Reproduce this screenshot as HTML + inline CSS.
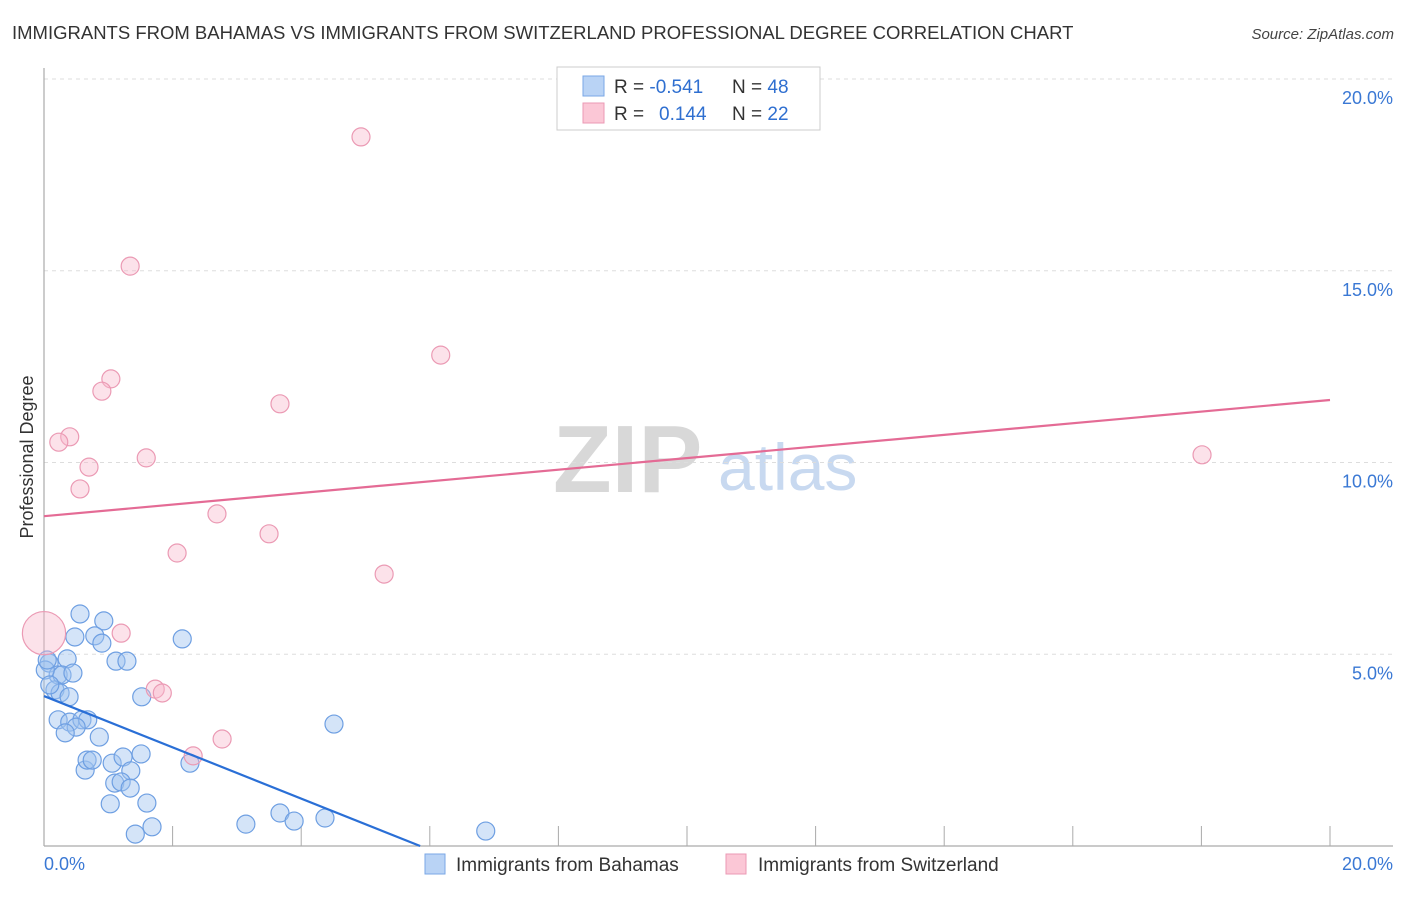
<!DOCTYPE html>
<html><head><meta charset="utf-8"><style>
body{margin:0;background:#fff;font-family:"Liberation Sans",sans-serif;}
svg text{font-family:"Liberation Sans",sans-serif;}
</style></head><body>
<svg id="chart" width="1406" height="892" viewBox="0 0 1406 892" xmlns="http://www.w3.org/2000/svg">
<text x="12" y="39" font-size="18.5" fill="#333">IMMIGRANTS FROM BAHAMAS VS IMMIGRANTS FROM SWITZERLAND PROFESSIONAL DEGREE CORRELATION CHART</text>
<text x="1394" y="39" font-size="15" fill="#444" text-anchor="end" font-style="italic">Source: ZipAtlas.com</text>
<g>
<text x="553" y="492" font-size="96" font-family="Liberation Serif" fill="#d8d8d8" font-weight="bold">ZIP</text>
<text x="718" y="490" font-size="66" fill="#c8d9f0">atlas</text>
</g>
<g id="grid"></g>
<line x1="44" y1="68" x2="44" y2="846" stroke="#aaa" stroke-width="1.2"/>
<line x1="44" y1="846" x2="1393" y2="846" stroke="#aaa" stroke-width="1.2"/>
<text transform="translate(33,457) rotate(-90)" text-anchor="middle" font-size="18" fill="#333">Professional Degree</text>
<text x="44" y="870" font-size="18" fill="#3a78d4">0.0%</text>
<text x="1393" y="870" font-size="18" fill="#3a78d4" text-anchor="end">20.0%</text>
<g id="pts"></g>
<g id="lines"></g>
<g>
<rect x="557" y="67" width="263" height="63" fill="#fff" stroke="#ccc"/>
<rect x="583" y="76" width="21" height="20" fill="#b9d3f5" stroke="#7aa7e6"/>
<rect x="583" y="103" width="21" height="20" fill="#fbc7d6" stroke="#eb9ab4"/>
<text x="614" y="93" font-size="19" fill="#333">R = <tspan fill="#2f6fd0">-0.541</tspan><tspan x="732">N = </tspan><tspan fill="#2f6fd0">48</tspan></text>
<text x="614" y="120" font-size="19" fill="#333">R = <tspan x="659" fill="#2f6fd0">0.144</tspan><tspan x="732">N = </tspan><tspan fill="#2f6fd0">22</tspan></text>
</g>
<g>
<rect x="425" y="854" width="20" height="20" fill="#b9d3f5" stroke="#7aa7e6"/>
<text x="456" y="871" font-size="19" fill="#333">Immigrants from Bahamas</text>
<rect x="726" y="854" width="20" height="20" fill="#fbc7d6" stroke="#eb9ab4"/>
<text x="758" y="871" font-size="19" fill="#333">Immigrants from Switzerland</text>
</g>
</svg>
<script>
const yTicks=[5,10,15,20];
const yTickLabels=["5.0%","10.0%","15.0%","20.0%"];
const xTicks=[0,2,4,6,8,10,12,14,16,18,20];
const bahamasX=[0.56,0.93,0.48,0.79,0.90,1.12,1.29,2.15,0.36,0.08,0.22,0.28,0.45,0.02,0.17,0.25,0.39,1.52,0.22,0.40,0.59,0.68,0.50,0.33,0.86,0.64,0.67,0.75,1.06,1.23,1.51,1.35,1.10,1.20,1.34,1.03,1.60,2.27,4.51,1.42,1.68,3.14,3.67,3.89,4.37,6.87,0.05,0.09];
const bahamasY=[6.05,5.87,5.45,5.48,5.29,4.82,4.82,5.40,4.88,4.77,4.46,4.46,4.51,4.59,4.07,3.99,3.89,3.89,3.29,3.23,3.29,3.29,3.10,2.95,2.84,1.98,2.24,2.24,2.16,2.32,2.40,1.96,1.64,1.67,1.51,1.10,1.12,2.16,3.18,0.31,0.50,0.57,0.86,0.65,0.73,0.39,4.85,4.20];
const swissX=[4.93,1.34,6.17,1.04,0.90,3.67,0.40,0.23,0.70,1.59,0.56,2.69,3.50,2.07,5.29,1.20,1.73,1.84,2.77,2.32,18.01,0];
const swissY=[18.49,15.12,12.80,12.18,11.86,11.53,10.67,10.53,9.88,10.12,9.31,8.66,8.14,7.64,7.09,5.55,4.09,3.99,2.79,2.35,10.20,5.55];
const swissSize=[1,1,1,1,1,1,1,1,1,1,1,1,1,1,1,1,1,1,1,1,1,2.4];
const bahamasTrend=[3.91,0,0,5.85];
const swissTrend=[8.6,11.63];
const NS="http://www.w3.org/2000/svg";
function sx(v){return 44+v/20*1286;}
function sy(v){return 846-v/20*767;}
function mk(t,a,p){const e=document.createElementNS(NS,t);for(const k in a)e.setAttribute(k,a[k]);p.appendChild(e);return e;}
const grid=document.getElementById('grid');
yTicks.forEach((t,i)=>{
 const l=mk('line',{x1:44,x2:1393,y1:sy(t),y2:sy(t),stroke:'#ddd','stroke-dasharray':'4,4'},grid);
 
 
 const tx=mk('text',{x:1393,y:sy(t)+25,'font-size':18,fill:'#3a78d4','text-anchor':'end'},grid);
 tx.textContent=yTickLabels[i];
 
 
});
xTicks.forEach(t=>{
 const l=mk('line',{x1:sx(t),x2:sx(t),y1:826,y2:846,stroke:'#aaa'},grid);
 
 
});
const pts=document.getElementById('pts');
bahamasX.forEach((x,i)=>{
 const c=mk('circle',{cx:sx(x),cy:sy(bahamasY[i]),r:9,fill:'rgba(160,196,240,0.45)',stroke:'#6e9fe2','stroke-width':1.2},pts);
 
 
});
swissX.forEach((x,i)=>{
 const c=mk('circle',{cx:sx(x),cy:sy(swissY[i]),r:9*swissSize[i],fill:'rgba(248,182,202,0.4)',stroke:'#eb9ab4','stroke-width':1.2},pts);
 
 
});
const lines=document.getElementById('lines');
const bl=mk('line',{x1:sx(0),y1:sy(bahamasTrend[0]),x2:sx(bahamasTrend[3]),y2:sy(bahamasTrend[1]),stroke:'#2a6fd6','stroke-width':2.2},lines);


const pl=mk('line',{x1:sx(0),y1:sy(swissTrend[0]),x2:sx(20),y2:sy(swissTrend[1]),stroke:'#e46b95','stroke-width':2.2},lines);


</script>
</body></html>
